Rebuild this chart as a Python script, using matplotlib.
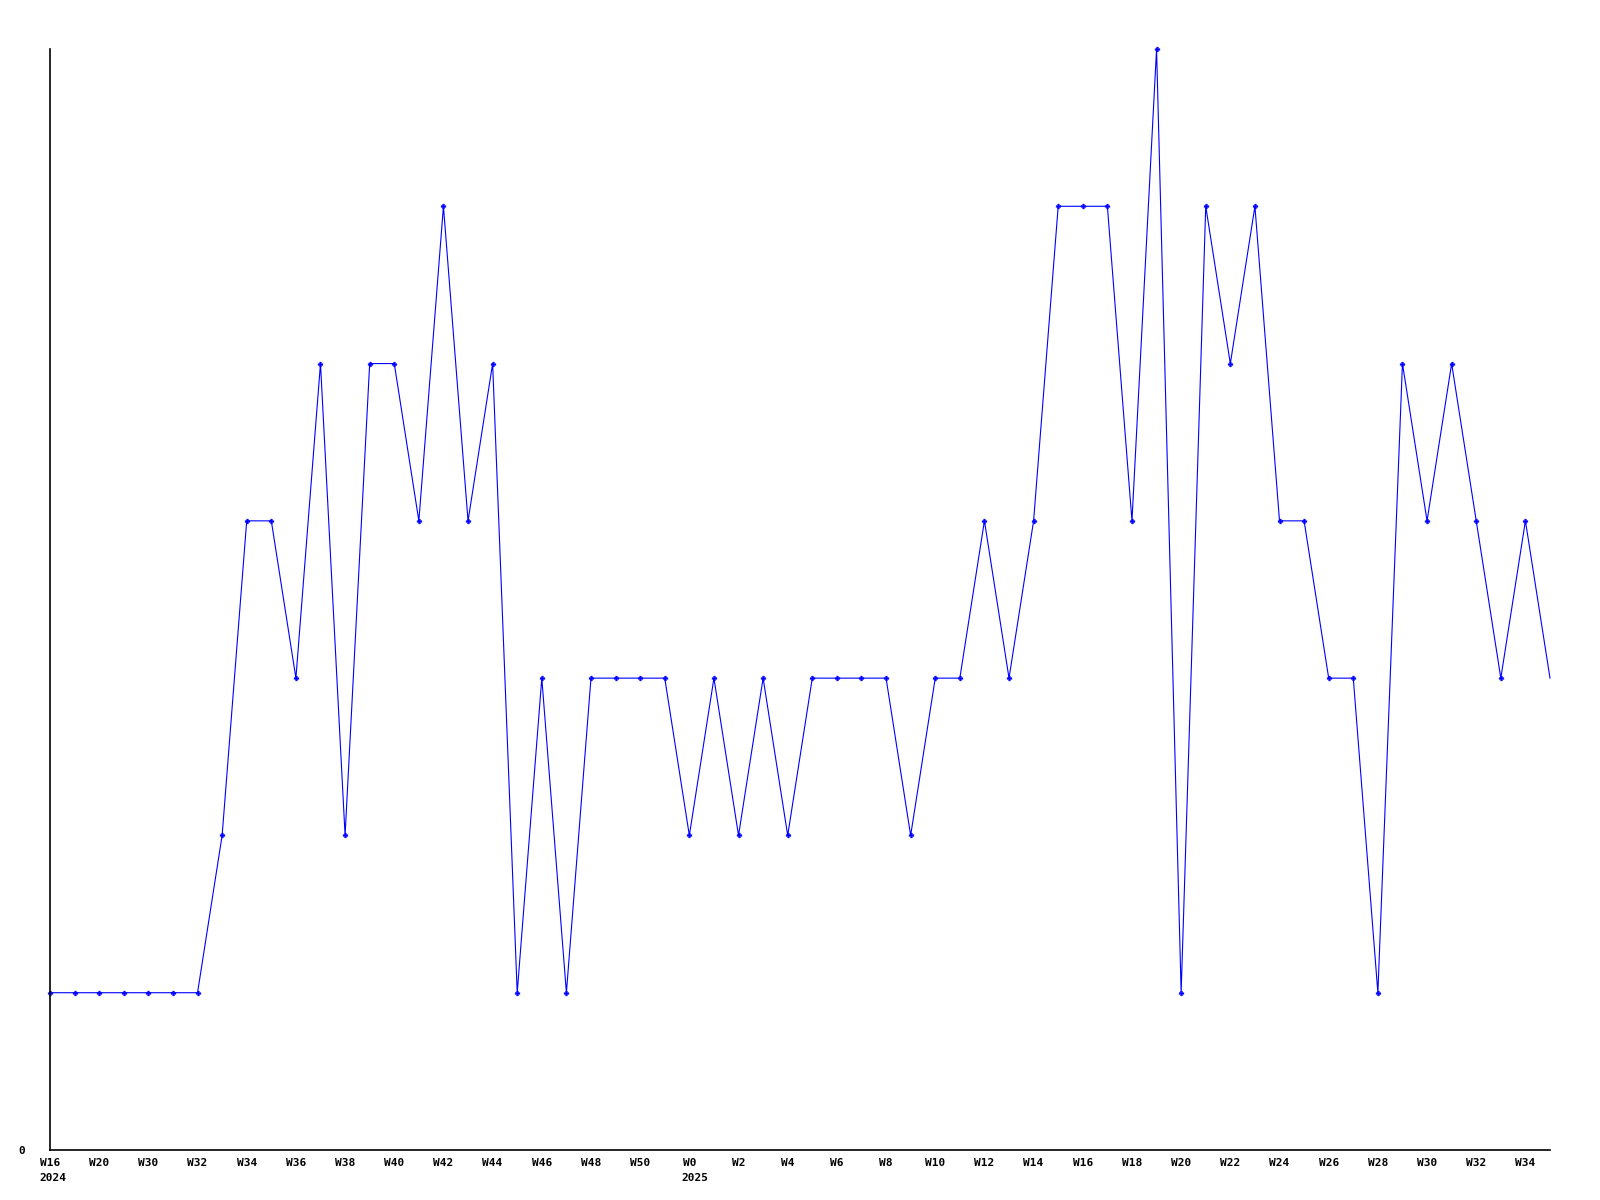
import matplotlib
matplotlib.use("Agg")
import matplotlib.pyplot as plt

weeks = ["W16", "W18", "W20", "W25", "W30", "W31", "W32", "W33", "W34", "W35",
         "W36", "W37", "W38", "W39", "W40", "W41", "W42", "W43", "W44", "W45",
         "W46", "W47", "W48", "W49", "W50", "W51", "W0", "W1", "W2", "W3",
         "W4", "W5", "W6", "W7", "W8", "W9", "W10", "W11", "W12", "W13",
         "W14", "W15", "W16", "W17", "W18", "W19", "W20", "W21", "W22", "W23",
         "W24", "W25", "W26", "W27", "W28", "W29", "W30", "W31", "W32", "W33",
         "W34", "W35"]
values = [1, 1, 1, 1, 1, 1, 1, 2, 4, 4,
          3, 5, 2, 5, 5, 4, 6, 4, 5, 1,
          3, 1, 3, 3, 3, 3, 2, 3, 2, 3,
          2, 3, 3, 3, 3, 2, 3, 3, 4, 3,
          4, 6, 6, 6, 4, 7, 1, 6, 5, 6,
          4, 4, 3, 3, 1, 5, 4, 5, 4, 3,
          4, 3]
years = {0: "2024", 26: "2025"}

fig = plt.figure(figsize=(16, 12), dpi=100)
ax = fig.add_axes([50 / 1600, 1 - 1150 / 1200, (1550 - 50) / 1600, (1150 - 49) / 1200])

x = list(range(len(values)))
ax.plot(x, values, color="#0000ff", linewidth=0.8, marker="P", markersize=3.5,
        markerfacecolor="#0000ff", markeredgecolor="#0000ff", markeredgewidth=0.3,
        markevery=list(range(len(values) - 1)), clip_on=False)

ax.set_xlim(0, len(values) - 1)
ax.set_ylim(0, max(values))

for s in ["top", "right"]:
    ax.spines[s].set_visible(False)
for s in ["left", "bottom"]:
    ax.spines[s].set_color("black")
    ax.spines[s].set_linewidth(1.2)

font = dict(family="DejaVu Sans Mono", weight="bold", size=8)
tick_idx = x[::2]
ax.set_xticks(tick_idx)
ax.set_xticklabels([weeks[i] for i in tick_idx], **font)
ax.set_yticks([0])
ax.set_yticklabels(["0"], **font)
ax.tick_params(axis="x", length=0, pad=6)
ax.tick_params(axis="y", length=0, pad=18)

cw = 0.602 * 8 * 100 / 72
for i, yr in years.items():
    ax.annotate(yr, xy=(i, 0), xycoords="data",
                xytext=(-len(weeks[i]) * cw / 2 - 1, -23), textcoords="offset pixels",
                ha="left", va="top", annotation_clip=False, **font)

fig.savefig("out.png", dpi=100)
